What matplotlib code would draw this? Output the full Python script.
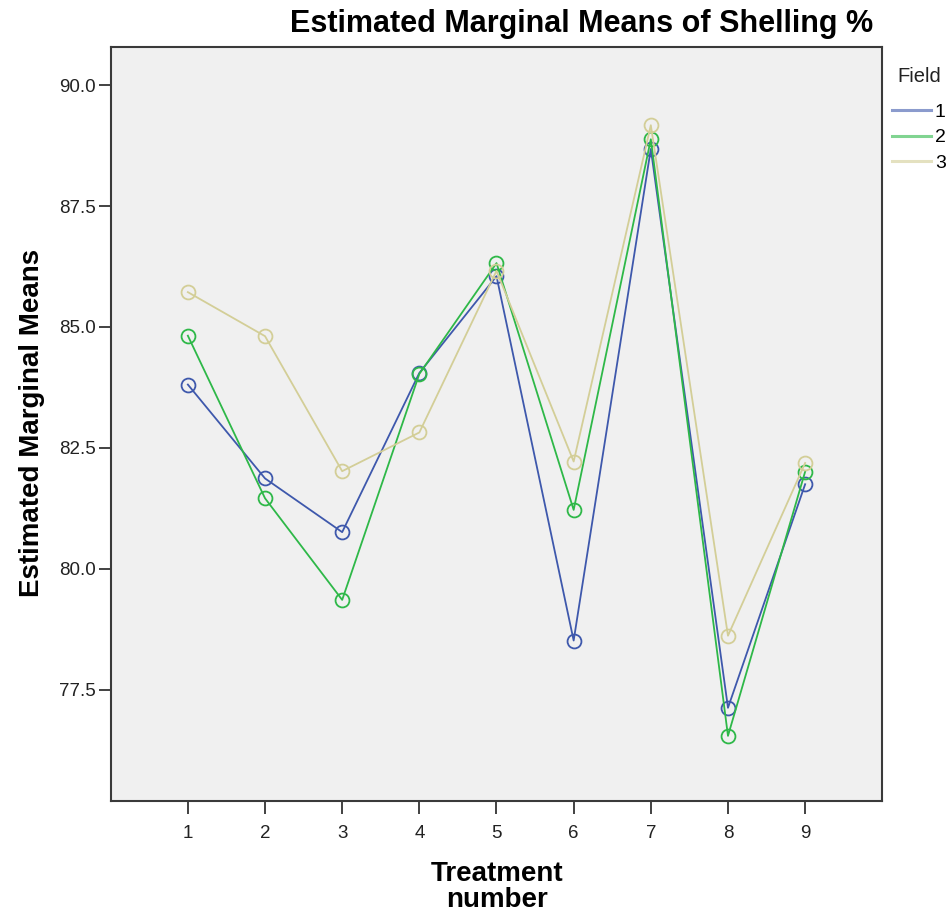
import numpy as np
import matplotlib.pyplot as plt
from matplotlib.lines import Line2D

# Estimated marginal means of shelling % by treatment and field
treatments = [1, 2, 3, 4, 5, 6, 7, 8, 9]
field_1 = [83.81, 81.87, 80.76, 84.05, 86.05, 78.52, 88.68, 77.13, 81.75]
field_2 = [84.82, 81.46, 79.36, 84.03, 86.32, 81.22, 88.88, 76.55, 82.01]
field_3 = [85.72, 84.81, 82.02, 82.82, 86.16, 82.22, 89.17, 78.62, 82.19]
field_names = ["1", "2", "3"]
colors = ["#3E58AC", "#2EB848", "#D3CE97"]

plt.rcParams["font.family"] = ["Liberation Sans", "DejaVu Sans"]

fig = plt.figure(figsize=(9.53, 9.13), dpi=100)
ax = fig.add_axes([110.7 / 953, 1 - 800.7 / 913, (882.3 - 110.7) / 953, (800.7 - 47.3) / 913])
ax.set_facecolor("#F0F0F0")

for vals, c in zip([field_1, field_2, field_3], colors):
    ax.plot(treatments, vals, color=c, linewidth=1.3, marker="o", markersize=10,
            markerfacecolor="none", markeredgecolor=c, markeredgewidth=1.3)

ax.set_xlim(0, 10)
ax.set_ylim(75.21, 90.78)
ax.set_xticks(treatments)
ax.set_yticks([77.5, 80.0, 82.5, 85.0, 87.5, 90.0])
ax.set_yticklabels(["77.5", "80.0", "82.5", "85.0", "87.5", "90.0"])
ax.tick_params(axis="x", length=9.5, width=1.3, color="#333333", labelsize=13.5, pad=8)
ax.tick_params(axis="y", length=9, width=1.3, color="#333333", labelsize=13.5, pad=2)
for lbl in ax.get_xticklabels() + ax.get_yticklabels():
    lbl.set_color("#222222")

for side in ["top", "right", "bottom", "left"]:
    ax.spines[side].set_color("#3a3a3a")
    ax.spines[side].set_linewidth(1.5)

fig.text(873 / 953, 1 - 24 / 913, "Estimated Marginal Means of Shelling %",
         ha="right", va="center", fontsize=22, fontweight="bold")
fig.text(32 / 953, 1 - 423 / 913, "Estimated Marginal Means", rotation=90,
         ha="center", va="center", fontsize=20, fontweight="bold")
fig.text(497 / 953, 1 - 887 / 913, "Treatment\nnumber", ha="center", va="center",
         fontsize=20, fontweight="bold", linespacing=1.0)

# legend: title as separate text, entries below it
fig.text(897 / 953, 1 - 76 / 913, "Field", ha="left", va="center", fontsize=14.5,
         color="#222222")
handles = [Line2D([0], [0], color=c, linewidth=2.2, alpha=0.6) for c in colors]
leg = fig.legend(handles, field_names, loc="upper left",
                 bbox_to_anchor=(892 / 953, 1 - 103 / 913), frameon=False,
                 fontsize=14, handlelength=2.0, handletextpad=0.2,
                 labelspacing=0.42, borderpad=0, borderaxespad=0)

fig.savefig("out.png", dpi=100)
